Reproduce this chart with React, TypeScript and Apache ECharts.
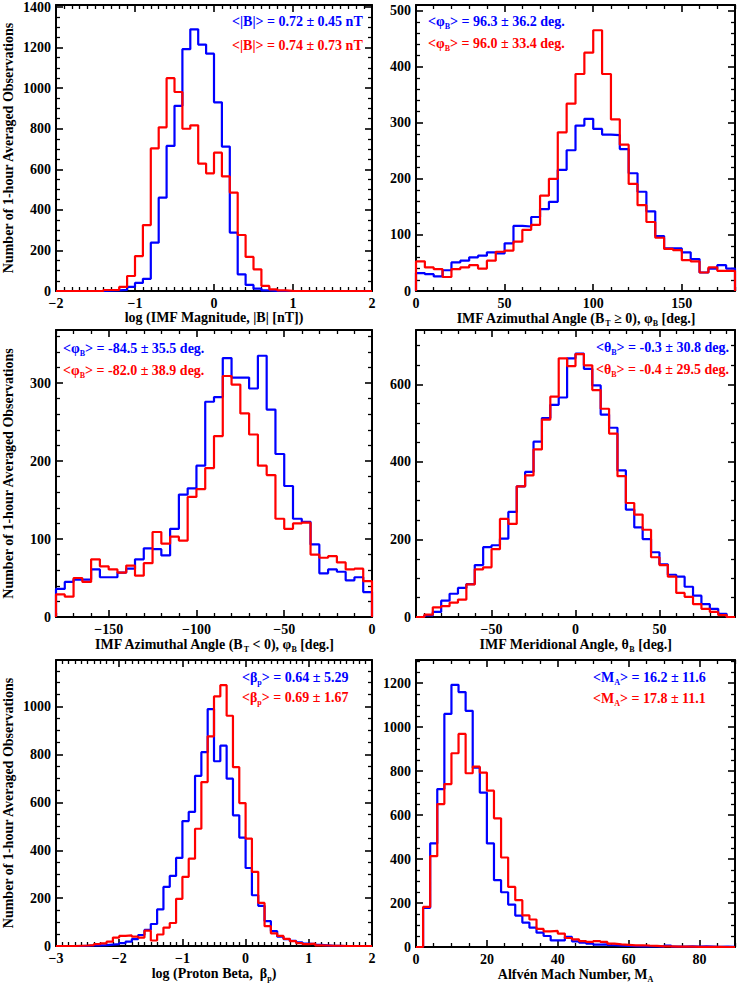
import React, { useEffect, useRef } from "react";
import * as echarts from "echarts";

const FONT = '"Liberation Serif", "Times New Roman", Times, serif';
const BLUE = "#0000ff";
const RED = "#ff0000";

// ---------- Panel 1: log |B| (bins of 0.1 from -2.0) ----------
const magStart = -2.0;
const magBin = 0.1;
const magBlue = [0, 0, 0, 0, 0, 0, 2, 3, 6, 20, 40, 60, 238, 460, 715, 913, 1192, 1290, 1215, 1170, 930, 712, 288, 82, 30, 12, 3, 1, 0, 0, 0, 0, 0, 0, 0, 0, 0, 0, 0, 0];
const magRed = [0, 0, 0, 0, 0, 0, 5, 5, 20, 74, 172, 325, 703, 807, 1049, 981, 800, 817, 628, 580, 682, 565, 485, 276, 168, 107, 25, 8, 3, 1, 0, 0, 0, 0, 0, 0, 0, 0, 0, 0];
const magXTicks = [-2, -1, 0, 1, 2];
const magYTicks = [0, 200, 400, 600, 800, 1000, 1200, 1400];

// ---------- Panel 2: azimuth, BT >= 0 (bins of 5 from 0) ----------
const azPosStart = 0;
const azPosBin = 5;
const azPosBlue = [32, 30, 26, 37, 51, 54, 60, 63, 69, 67, 85, 116, 115, 132, 146, 159, 216, 251, 295, 307, 289, 279, 278, 253, 210, 177, 142, 98, 76, 76, 69, 57, 33, 40, 46, 40];
const azPosRed = [53, 42, 39, 25, 39, 42, 46, 40, 54, 70, 72, 88, 109, 118, 170, 200, 283, 334, 387, 425, 465, 387, 306, 261, 191, 153, 123, 95, 75, 73, 55, 53, 33, 42, 36, 36];
const azPosXTicks = [0, 50, 100, 150];
const azPosYTicks = [0, 100, 200, 300, 400, 500];

// ---------- Panel 3: azimuth, BT < 0 (bins of 5 from -180) ----------
const azNegStart = -180;
const azNegBin = 5;
const azNegBlue = [36, 45, 48, 48, 61, 51, 51, 57, 62, 74, 88, 87, 79, 113, 157, 165, 194, 276, 282, 332, 307, 307, 293, 335, 266, 209, 168, 126, 122, 93, 56, 61, 58, 47, 51, 32];
const azNegRed = [29, 26, 50, 45, 74, 65, 61, 57, 66, 53, 69, 109, 94, 103, 98, 154, 164, 191, 232, 309, 298, 261, 234, 194, 182, 126, 113, 120, 121, 80, 76, 78, 70, 61, 62, 46];
const azNegXTicks = [-150, -100, -50, 0];
const azNegYTicks = [0, 100, 200, 300];

// ---------- Panel 4: meridional angle (bins of 5 from -90) ----------
const merStart = -90;
const merBin = 5;
const merBlue = [4, 13, 42, 60, 75, 85, 134, 180, 185, 202, 271, 337, 374, 452, 513, 547, 566, 667, 679, 640, 597, 522, 488, 378, 277, 231, 201, 167, 136, 109, 104, 78, 55, 33, 21, 8];
const merRed = [6, 25, 28, 37, 45, 84, 123, 128, 175, 253, 240, 337, 365, 432, 509, 568, 667, 647, 678, 649, 585, 537, 473, 363, 294, 264, 225, 154, 134, 104, 62, 52, 33, 21, 13, 5];
const merXTicks = [-50, 0, 50];
const merYTicks = [0, 200, 400, 600];

// ---------- Panel 5: log proton beta (bins of 0.1 from -3.0) ----------
const betaStart = -3.0;
const betaBin = 0.1;
const betaBlue = [0, 0, 0, 0, 1, 2, 3, 4, 6, 8, 12, 18, 29, 46, 67, 92, 153, 247, 293, 368, 522, 560, 711, 810, 990, 772, 837, 699, 546, 453, 326, 212, 168, 104, 62, 39, 29, 21, 15, 10, 8, 5, 3, 1, 1, 0, 0, 0, 0, 0];
const betaRed = [0, 0, 0, 1, 2, 4, 8, 11, 18, 35, 42, 44, 39, 35, 64, 23, 48, 77, 96, 197, 289, 365, 490, 685, 876, 1043, 1090, 962, 747, 597, 449, 310, 180, 83, 53, 42, 30, 20, 12, 8, 10, 3, 2, 1, 1, 0, 0, 0, 0, 0];
const betaXTicks = [-3, -2, -1, 0, 1, 2];
const betaYTicks = [0, 200, 400, 600, 800, 1000];

// ---------- Panel 6: Alfven Mach number (bins of 2 from 0) ----------
const machStart = 0;
const machBin = 2;
const machBlue = [0, 178, 471, 718, 1060, 1192, 1159, 1074, 816, 702, 471, 304, 249, 193, 143, 111, 88, 65, 50, 30, 30, 46, 26, 20, 15, 11, 12, 8, 6, 5, 4, 3, 4, 3, 2, 6, 2, 2, 3, 2, 3, 2, 1, 2, 1];
const machRed = [0, 182, 413, 650, 741, 881, 969, 790, 820, 793, 711, 585, 407, 273, 213, 144, 125, 82, 71, 73, 61, 41, 35, 27, 23, 27, 23, 15, 12, 10, 7, 8, 6, 5, 3, 3, 2, 2, 2, 1, 1, 1, 1, 0, 0];
const machXTicks = [0, 20, 40, 60, 80];
const machYTicks = [0, 200, 400, 600, 800, 1000, 1200];

const yTitle = "Number of 1-hour Averaged Observations";

type Note = { text: string; color: string };
type Panel = {
  xMin: number; xMax: number; xTicks: number[]; xMinorStep: number;
  yMax: number; yTicks: number[]; yMinorStep: number;
  start: number; bin: number; blue: number[]; red: number[];
  xName: string; yName: string; notes: Note[];
};

const panels: Panel[] = [
  {
    xMin: -2, xMax: 2, xTicks: magXTicks, xMinorStep: 0.1,
    yMax: 1410, yTicks: magYTicks, yMinorStep: 50,
    start: magStart, bin: magBin, blue: magBlue, red: magRed,
    xName: "log (IMF Magnitude, |B| [nT])", yName: yTitle,
    notes: [
      { text: "{a|<|B|> = 0.72 ± 0.45 nT}", color: BLUE },
      { text: "{a|<|B|> = 0.74 ± 0.73 nT}", color: RED },
    ],
  },
  {
    xMin: 0, xMax: 180, xTicks: azPosXTicks, xMinorStep: 10,
    yMax: 510, yTicks: azPosYTicks, yMinorStep: 20,
    start: azPosStart, bin: azPosBin, blue: azPosBlue, red: azPosRed,
    xName: "IMF Azimuthal Angle (B{s|T} ≥ 0), φ{s|B} [deg.]", yName: "",
    notes: [
      { text: "{a|<φ}{s|B}{a|> = 96.3 ± 36.2 deg.}", color: BLUE },
      { text: "{a|<φ}{s|B}{a|> = 96.0 ± 33.4 deg.}", color: RED },
    ],
  },
  {
    xMin: -180, xMax: 0, xTicks: azNegXTicks, xMinorStep: 10,
    yMax: 368, yTicks: azNegYTicks, yMinorStep: 20,
    start: azNegStart, bin: azNegBin, blue: azNegBlue, red: azNegRed,
    xName: "IMF Azimuthal Angle (B{s|T} < 0), φ{s|B} [deg.]", yName: yTitle,
    notes: [
      { text: "{a|<φ}{s|B}{a|> = -84.5 ± 35.5 deg.}", color: BLUE },
      { text: "{a|<φ}{s|B}{a|> = -82.0 ± 38.9 deg.}", color: RED },
    ],
  },
  {
    xMin: -95, xMax: 95, xTicks: merXTicks, xMinorStep: 10,
    yMax: 740, yTicks: merYTicks, yMinorStep: 50,
    start: merStart, bin: merBin, blue: merBlue, red: merRed,
    xName: "IMF Meridional Angle, θ{s|B} [deg.]", yName: "",
    notes: [
      { text: "{a|<θ}{s|B}{a|> = -0.3 ± 30.8 deg.}", color: BLUE },
      { text: "{a|<θ}{s|B}{a|> = -0.4 ± 29.5 deg.}", color: RED },
    ],
  },
  {
    xMin: -3, xMax: 2, xTicks: betaXTicks, xMinorStep: 0.1,
    yMax: 1195, yTicks: betaYTicks, yMinorStep: 50,
    start: betaStart, bin: betaBin, blue: betaBlue, red: betaRed,
    xName: "log (Proton Beta,  β{s|p})", yName: yTitle,
    notes: [
      { text: "{a|<β}{s|p}{a|> = 0.64 ± 5.29}", color: BLUE },
      { text: "{a|<β}{s|p}{a|> = 0.69 ± 1.67}", color: RED },
    ],
  },
  {
    xMin: 0, xMax: 90, xTicks: machXTicks, xMinorStep: 5,
    yMax: 1305, yTicks: machYTicks, yMinorStep: 50,
    start: machStart, bin: machBin, blue: machBlue, red: machRed,
    xName: "Alfvén Mach Number, M{s|A}", yName: "",
    notes: [
      { text: "{a|<M}{s|A}{a|> = 16.2 ± 11.6}", color: BLUE },
      { text: "{a|<M}{s|A}{a|> = 17.8 ± 11.1}", color: RED },
    ],
  },
];

// layout (pixels)
const gridBoxes = [
  { left: 55, top: 5, width: 317, height: 286 },
  { left: 416, top: 5, width: 319, height: 286 },
  { left: 55, top: 330, width: 317, height: 287 },
  { left: 416, top: 330, width: 319, height: 287 },
  { left: 55, top: 660, width: 317, height: 286 },
  { left: 416, top: 660, width: 319, height: 287 },
];
const notePos = [
  [232, 21, 45],
  [428, 21, 43],
  [63, 348, 370],
  [596, 347, 369],
  [242, 677, 697],
  [593, 677, 698],
];

function minorTicks(min: number, max: number, step: number, majors: number[]) {
  const out: number[] = [];
  const i0 = Math.ceil(min / step - 1e-9);
  for (let i = i0; i * step <= max + 1e-9; i++) {
    const v = +(i * step).toFixed(6);
    if (!majors.some((m) => Math.abs(m - v) < 1e-9)) out.push(v);
  }
  return out;
}

function steps(start: number, bin: number, vals: number[], axMin: number, axMax: number) {
  const pts: number[][] = [[axMin, 0]];
  vals.forEach((v, i) => pts.push([+(start + i * bin).toFixed(6), v]));
  const end = +(start + vals.length * bin).toFixed(6);
  pts.push([end, 0]);
  if (axMax > end) pts.push([axMax, 0]);
  return pts;
}

const fmt = (v: number) => (v < 0 ? "\u2212" + String(-v) : String(v));

function richFor(color: string, size: number) {
  return {
    a: { fontFamily: FONT, fontWeight: "bold", fontSize: size, color, fill: color },
    s: { fontFamily: FONT, fontWeight: "bold", fontSize: 8, color, fill: color, padding: [10, 0, 0, 0] },
  };
}

function buildOption() {
  const grids: any[] = [];
  const xAxes: any[] = [];
  const yAxes: any[] = [];
  const series: any[] = [];
  const graphics: any[] = [];
  const frameLine = { show: true, onZero: false, lineStyle: { color: "#000", width: 2 } };
  const noLine = { show: false, onZero: false };
  const majorTick = (vals: number[]) => ({ show: true, inside: true, length: 7, customValues: vals, lineStyle: { color: "#000", width: 1.6 } });
  const minorTick = (vals: number[]) => ({ show: true, inside: true, length: 4, customValues: vals, lineStyle: { color: "#000", width: 1.3 } });
  const label = (vals: number[]) => ({
    show: true, customValues: vals, formatter: fmt, margin: 5,
    fontFamily: FONT, fontWeight: "bold", fontSize: 14, color: "#000",
  });
  const nameStyle = {
    fontFamily: FONT, fontWeight: "bold", fontSize: 14, color: "#000",
    rich: richFor("#000", 14),
  };

  panels.forEach((p, i) => {
    const g = gridBoxes[i];
    grids.push({ left: g.left, top: g.top, width: g.width, height: g.height, containLabel: false });
    const xi = xAxes.length;
    const yi = yAxes.length;
    const xMinor = minorTicks(p.xMin, p.xMax, p.xMinorStep, p.xTicks);
    const yMinor = minorTicks(0, p.yMax, p.yMinorStep, p.yTicks);
    const xb = { type: "value", gridIndex: i, min: p.xMin, max: p.xMax, splitLine: { show: false } };
    const yb = { type: "value", gridIndex: i, min: 0, max: p.yMax, splitLine: { show: false } };

    xAxes.push({
      ...xb, position: "bottom", axisLine: frameLine, axisTick: majorTick(p.xTicks), axisLabel: label(p.xTicks),
      name: p.xName, nameLocation: "middle", nameGap: 18, nameTextStyle: nameStyle,
    });
    xAxes.push({ ...xb, position: "bottom", axisLine: noLine, axisTick: minorTick(xMinor), axisLabel: { show: false } });
    xAxes.push({ ...xb, position: "top", axisLine: frameLine, axisTick: majorTick(p.xTicks), axisLabel: { show: false } });
    xAxes.push({ ...xb, position: "top", axisLine: noLine, axisTick: minorTick(xMinor), axisLabel: { show: false } });

    yAxes.push({
      ...yb, position: "left", axisLine: frameLine, axisTick: majorTick(p.yTicks), axisLabel: label(p.yTicks),
      name: p.yName, nameLocation: "middle", nameGap: 41, nameTextStyle: nameStyle,
    });
    yAxes.push({ ...yb, position: "left", axisLine: noLine, axisTick: minorTick(yMinor), axisLabel: { show: false } });
    yAxes.push({ ...yb, position: "right", axisLine: frameLine, axisTick: majorTick(p.yTicks), axisLabel: { show: false } });
    yAxes.push({ ...yb, position: "right", axisLine: noLine, axisTick: minorTick(yMinor), axisLabel: { show: false } });

    series.push({
      type: "line", name: "blue" + i, xAxisIndex: xi, yAxisIndex: yi, step: "end",
      data: steps(p.start, p.bin, p.blue, p.xMin, p.xMax), symbol: "none", showSymbol: false,
      lineStyle: { color: BLUE, width: 2.2 }, itemStyle: { color: BLUE }, z: 3, silent: true, clip: false,
    });
    series.push({
      type: "line", name: "red" + i, xAxisIndex: xi, yAxisIndex: yi, step: "end",
      data: steps(p.start, p.bin, p.red, p.xMin, p.xMax), symbol: "none", showSymbol: false,
      lineStyle: { color: RED, width: 2.2 }, itemStyle: { color: RED }, z: 4, silent: true, clip: false,
    });

    const np = notePos[i];
    p.notes.forEach((n, k) => {
      graphics.push({
        type: "text", x: np[0], y: np[1 + k], silent: true, z: 10,
        style: {
          text: n.text, rich: richFor(n.color, 14), fill: n.color,
          font: "bold 14px " + FONT, align: "left", verticalAlign: "middle",
          textAlign: "left", textVerticalAlign: "middle",
        },
      });
    });
  });

  return {
    animation: false,
    textStyle: { fontFamily: FONT, fontWeight: "bold" },
    grid: grids,
    xAxis: xAxes,
    yAxis: yAxes,
    series,
    graphic: { elements: graphics },
  };
}

export default function App() {
  const ref = useRef<HTMLDivElement>(null);
  useEffect(() => {
    document.body.style.margin = "0";
    const chart = echarts.init(ref.current as HTMLDivElement, undefined, { renderer: "svg", width: 737, height: 984 });
    chart.setOption(buildOption() as any);
    return () => chart.dispose();
  }, []);
  return <div ref={ref} style={{ position: "absolute", left: 0, top: 0, width: 737, height: 984, background: "#fff" }} />;
}
